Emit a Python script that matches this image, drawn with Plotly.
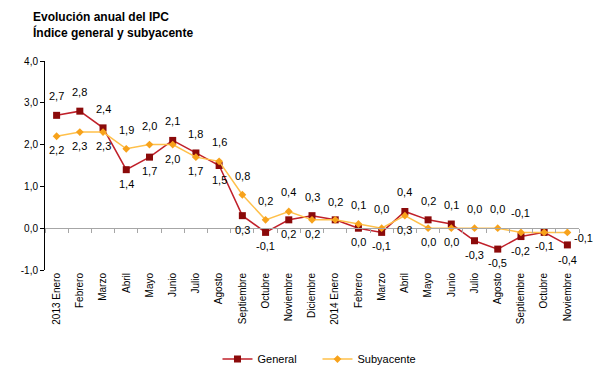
import plotly.graph_objects as go

months = ["2013 Enero", "Febrero", "Marzo", "Abril", "Mayo", "Junio", "Julio", "Agosto",
          "Septiembre", "Octubre", "Noviembre", "Diciembre", "2014 Enero", "Febrero", "Marzo",
          "Abril", "Mayo", "Junio", "Julio", "Agosto", "Septiembre", "Octubre", "Noviembre"]
general = [2.7, 2.8, 2.4, 1.4, 1.7, 2.1, 1.8, 1.5, 0.3, -0.1, 0.2, 0.3, 0.2, 0.0, -0.1,
           0.4, 0.2, 0.1, -0.3, -0.5, -0.2, -0.1, -0.4]
subyacente = [2.2, 2.3, 2.3, 1.9, 2.0, 2.0, 1.7, 1.6, 0.8, 0.2, 0.4, 0.2, 0.2, 0.1, 0.0,
              0.3, 0.0, 0.0, 0.0, 0.0, -0.1, -0.1, -0.1]
y_ticks = [-1.0, 0.0, 1.0, 2.0, 3.0, 4.0]

FONT = "Liberation Sans, Arial, sans-serif"
C_GEN_LINE = "#C0202A"
C_GEN_MARK = "#8B0A0A"
C_SUB_LINE = "#FFC04A"
C_SUB_MARK = "#F7A21B"

# the page body has an 8px default margin; size the figure to fill the rest of the window
W, H = 603, 372


def fmt(v):
    return f"{v:.1f}".replace(".", ",")


n = len(months)
xs = list(range(n))

fig = go.Figure()
fig.add_trace(go.Scatter(
    x=xs, y=general, name="General", mode="lines+markers",
    line=dict(color=C_GEN_LINE, width=1.5),
    marker=dict(symbol="square", size=7, color=C_GEN_MARK),
    hoverinfo="skip"))
fig.add_trace(go.Scatter(
    x=xs, y=subyacente, name="Subyacente", mode="lines+markers",
    line=dict(color=C_SUB_LINE, width=1.5),
    marker=dict(symbol="diamond", size=6, color=C_SUB_MARK),
    hoverinfo="skip"))
# helper trace for the zero axis line with boundary ticks
fig.add_trace(go.Scatter(x=[], y=[], xaxis="x2", showlegend=False, hoverinfo="skip"))

annotations = []
for i in range(n):
    g, s = general[i], subyacente[i]
    if i == n - 1:
        annotations.append(dict(x=i, y=s, text=fmt(s), xanchor="left", xshift=5, yshift=-6))
        annotations.append(dict(x=i, y=g, text=fmt(g), yshift=-15))
        continue
    if g == s:
        if g > 0:
            annotations.append(dict(x=i, y=g, text=fmt(g), yshift=18))
        else:
            annotations.append(dict(x=i, y=g, text=fmt(g), yshift=-14))
        continue
    hi, lo = (g, s) if g > s else (s, g)
    annotations.append(dict(x=i, y=hi, text=fmt(hi), yshift=19))
    annotations.append(dict(x=i, y=lo, text=fmt(lo), yshift=-14))

for a in annotations:
    a.update(showarrow=False, font=dict(family=FONT, size=11, color="#000000"))

fig.update_layout(
    width=W, height=H,
    margin=dict(l=37, r=32, t=53, b=110, autoexpand=False),
    paper_bgcolor="white", plot_bgcolor="white",
    font=dict(family=FONT, size=10, color="#000000"),
    title=dict(text="<b>Evolución anual del IPC<br>Índice general y subyacente</b>",
               x=25 / W, xref="container", xanchor="left",
               y=1 - 13 / H, yref="container", yanchor="top",
               font=dict(family=FONT, size=12, color="#000000")),
    xaxis=dict(range=[-0.5, n - 0.5], tickmode="array", tickvals=xs, ticktext=months,
               tickangle=-90, showline=False, showgrid=False, zeroline=False,
               automargin=False,
               ticks="", tickfont=dict(family=FONT, size=10, color="#000000")),
    xaxis2=dict(range=[-0.5, n - 0.5], overlaying="x", anchor="free", position=0.2,
                tickmode="array", tickvals=[i - 0.5 for i in range(n + 1)],
                ticks="outside", ticklen=4, tickcolor="#A6A6A6", tickwidth=1,
                showline=True, linecolor="#A6A6A6", linewidth=1, automargin=False,
                showticklabels=False, showgrid=False, zeroline=False),
    yaxis=dict(range=[-1, 4], tickmode="array", tickvals=y_ticks,
               ticktext=[fmt(v) for v in y_ticks], automargin=False,
               showline=True, linecolor="#000000", linewidth=1,
               ticks="outside", ticklen=4, tickcolor="#000000",
               showgrid=False, zeroline=False,
               tickfont=dict(family=FONT, size=10, color="#000000")),
    legend=dict(orientation="h", x=0.323, xanchor="left", y=-0.426, yanchor="middle",
                font=dict(family=FONT, size=11, color="#000000"), itemwidth=30,
                entrywidth=55, entrywidthmode="pixels"),
    showlegend=True,
    annotations=annotations,
)

fig.write_html("out.html")
